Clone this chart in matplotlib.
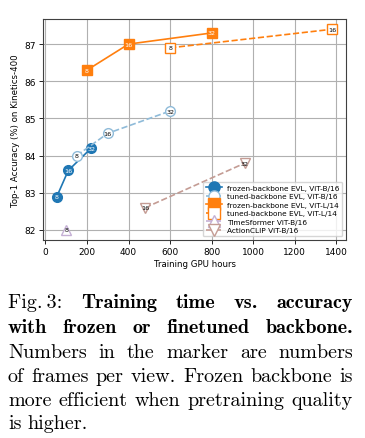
import matplotlib
matplotlib.use("Agg")
import matplotlib.pyplot as plt

# ---- data ----
fb16_x = [55, 110, 220]
fb16_y = [82.9, 83.6, 84.2]
fb16_lab = ["8", "16", "32"]

tb16_x = [150, 300, 600]
tb16_y = [84.0, 84.6, 85.2]
tb16_lab = ["8", "16", "32"]

fl14_x = [200, 400, 800]
fl14_y = [86.3, 87.0, 87.3]
fl14_lab = ["8", "16", "32"]

tl14_x = [600, 1380]
tl14_y = [86.9, 87.4]
tl14_lab = ["8", "16"]

ts_x = [100]
ts_y = [82.0]
ts_lab = ["8"]

ac_x = [480, 960]
ac_y = [82.6, 83.8]
ac_lab = ["16", "32"]

xticks = [0, 200, 400, 600, 800, 1000, 1200, 1400]
yticks = [82, 83, 84, 85, 86, 87]

fig = plt.figure(figsize=(3.65, 4.39), dpi=100)
ax = fig.add_axes([0.118, 0.451, 0.830, 0.503])

blue = "#1f77b4"
lblue = "#8fbbd9"
orange = "#ff7f0e"
purple = "#c5b0d5"
brown = "#c49c94"

ms = 7
series = [
    (fb16_x, fb16_y, fb16_lab, "frozen-backbone EVL, ViT-B/16", blue, "o", "-", blue, "white"),
    (tb16_x, tb16_y, tb16_lab, "tuned-backbone EVL, ViT-B/16", lblue, "o", "--", "white", "black"),
    (fl14_x, fl14_y, fl14_lab, "frozen-backbone EVL, ViT-L/14", orange, "s", "-", orange, "white"),
    (tl14_x, tl14_y, tl14_lab, "tuned-backbone EVL, ViT-L/14", orange, "s", "--", "white", "black"),
    (ts_x, ts_y, ts_lab, "TimeSformer ViT-B/16", purple, "^", "--", "white", "black"),
    (ac_x, ac_y, ac_lab, "ActionCLIP ViT-B/16", brown, "v", "--", "white", "black"),
]

for xs, ys, labs, name, col, mk, ls, fc, tc in series:
    ax.plot(xs, ys, color=col, linestyle=ls, marker=mk, markersize=ms,
            markerfacecolor=fc, markeredgecolor=col, markeredgewidth=1.0,
            linewidth=1.2, label=name, zorder=3)
    for x, y, l in zip(xs, ys, labs):
        ax.text(x, y, l, ha="center", va="center", fontsize=4.6, color=tc, zorder=4)

ax.set_xticks(xticks)
ax.set_yticks(yticks)
ax.tick_params(labelsize=6.5, length=3, width=0.6, pad=2)
ax.grid(True, color="#b0b0b0", linewidth=0.8)
ax.set_axisbelow(True)
for s in ax.spines.values():
    s.set_color("#404040")
    s.set_linewidth(0.8)
ax.set_xlabel("Training GPU hours", fontsize=6.2, labelpad=2)
ax.set_ylabel("Top-1 Accuracy (%) on Kinetics-400", fontsize=6.2, labelpad=3)

leg = ax.legend(loc="lower right", fontsize=5.3, markerscale=1.15, handlelength=2.2,
                borderpad=0.4, labelspacing=0.32, handletextpad=0.7, framealpha=0.8)

# ---- caption (justified) ----
lines = [
    ([("Fig.\u20093:", ["cmr10", "DejaVu Serif"])] + [(w, "cmb10") for w in "Training time vs. accuracy".split()], True),
    ([(w, "cmb10") for w in "with frozen or finetuned backbone.".split()], True),
    ([(w, "cmr10") for w in "Numbers in the marker are numbers".split()], True),
    ([(w, "cmr10") for w in "of frames per view. Frozen backbone is".split()], True),
    ([(w, "cmr10") for w in "more efficient when pretraining quality".split()], True),
    ([(w, "cmr10") for w in "is higher.".split()], False),
]
ys_px = [303, 328, 353, 377, 401, 424]
W, H = 365, 439
x0, x1 = 8, 353
fs = 14.5
renderer = fig.canvas.get_renderer()
for (words, just), ypx in zip(lines, ys_px):
    objs = []
    for w, fam in words:
        t = fig.text(0, 1 - ypx / H, w, fontsize=fs, family=fam, va="center", ha="left")
        objs.append(t)
    widths = [t.get_window_extent(renderer).width for t in objs]
    total = sum(widths)
    if just and len(objs) > 1:
        gap = (x1 - x0 - total) / (len(objs) - 1)
    else:
        gap = 6
    x = x0
    for t, wd in zip(objs, widths):
        t.set_x(x / W)
        x += wd + gap

fig.savefig("out.png", dpi=100)
